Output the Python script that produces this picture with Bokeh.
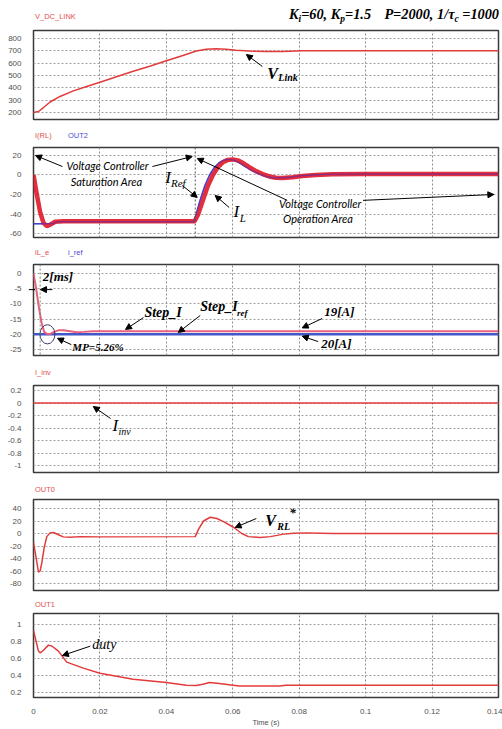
from bokeh.plotting import figure
from bokeh.layouts import column
from bokeh.models import Label, Arrow, NormalHead, Span, FixedTicker, Range1d, Div
from bokeh.embed import file_html
from bokeh.resources import INLINE

# ---------------- data ----------------
x_ticks = [0, 0.02, 0.04, 0.06, 0.08, 0.1, 0.12, 0.14]
x_tick_labels = ["0", "0.02", "0.04", "0.06", "0.08", "0.1", "0.12", "0.14"]

# Panel 1: V_DC_LINK
v_t = [0, 0.0015, 0.003, 0.005, 0.008, 0.012, 0.016, 0.02, 0.025, 0.03, 0.035, 0.04,
       0.045, 0.049, 0.052, 0.055, 0.058, 0.061, 0.065, 0.07, 0.075, 0.079, 0.081, 0.14]
v_dc_link = [200, 208, 240, 285, 330, 375, 410, 445, 490, 535, 575, 620,
             662, 698, 712, 716, 712, 705, 698, 695, 695, 699, 701, 701]
v_ticks = [200, 300, 400, 500, 600, 700, 800]
v_labels = ["200", "300", "400", "500", "600", "700", "800"]

# Panel 2: I(RL) and OUT2
i_rl_t = [0, 0.001, 0.002, 0.003, 0.004, 0.005, 0.0065, 0.009, 0.0485, 0.0495, 0.0505,
          0.0515, 0.0525, 0.054, 0.0555, 0.057, 0.0585, 0.060, 0.0615, 0.063, 0.065,
          0.067, 0.069, 0.071, 0.073, 0.075, 0.078, 0.081, 0.085, 0.09, 0.1, 0.14]
i_rl = [0, -20, -38, -49, -52.5, -51, -48, -47.5, -47.5, -41, -31,
        -21, -11, 0, 8, 13, 15.5, 16, 15, 12.5, 8,
        4, 1, -1.5, -2.8, -3, -2.2, -1, 0, 0.8, 1, 1]
out2_t = [0, 0.006, 0.007, 0.0483, 0.049, 0.0498, 0.0507, 0.0517, 0.053, 0.0545, 0.056,
          0.0575, 0.059, 0.0605, 0.062, 0.064, 0.066, 0.068, 0.070, 0.072, 0.074, 0.077,
          0.080, 0.084, 0.089, 0.1, 0.14]
out2 = [-50, -50, -48, -48, -40, -30, -20, -10, 0, 8, 13,
        15.5, 16, 15, 12.5, 8, 4, 1, -1.5, -2.8, -3, -2.2,
        -1, 0, 0.8, 1, 1]
i_ticks = [-60, -40, -20, 0, 20]
i_labels = ["-60", "-40", "-20", "0", "20"]
sat_end = 0.0487

# Panel 3: iL_e and i_ref
ile_t = [0, 0.0008, 0.0016, 0.0024, 0.0032, 0.0042, 0.0052, 0.0062, 0.0075, 0.009,
         0.011, 0.013, 0.015, 0.018, 0.14]
il_e = [0, -5, -11, -16, -19.2, -20, -19.8, -19.2, -18.7, -18.7,
        -19.0, -19.3, -19.2, -19.0, -19.0]
iref_t = [0, 0.14]
i_ref = [-20, -20]
e_ticks = [-25, -20, -15, -10, -5, 0]
e_labels = ["-25", "-20", "-15", "-10", "-5", "0"]
settle_t = 0.002

# Panel 4: I_inv
iinv_t = [0, 0.14]
i_inv = [0, 0]
inv_ticks = [-1, -0.8, -0.6, -0.4, -0.2, 0, 0.2]
inv_labels = ["-1", "-0.8", "-0.6", "-0.4", "-0.2", "0", "0.2"]

# Panel 5: OUT0
out0_t = [0, 0.0008, 0.0015, 0.002, 0.0025, 0.0032, 0.004, 0.005, 0.006, 0.0075,
          0.009, 0.011, 0.014, 0.02, 0.0487, 0.0497, 0.0512, 0.0532, 0.0552, 0.0572,
          0.0602, 0.0627, 0.0647, 0.0682, 0.0713, 0.0753, 0.0783, 0.0823, 0.0863, 0.0903, 0.14]
out0 = [-14.5, -39, -62, -60, -47, -23, -5, 1, 1.6, -2,
        -5.4, -6, -5, -5.4, -5, 7, 20, 26, 24, 19,
        10, 0, -5, -6.5, -5, -1, 0.5, 1, 0.5, 0, 0]
o0_ticks = [-80, -60, -40, -20, 0, 20, 40]
o0_labels = ["-80", "-60", "-40", "-20", "0", "20", "40"]

# Panel 6: OUT1 (duty)
duty_t = [0, 0.0008, 0.0015, 0.002, 0.003, 0.0045, 0.0055, 0.0075, 0.01, 0.015, 0.02,
          0.03, 0.04, 0.046, 0.049, 0.051, 0.053, 0.056, 0.06, 0.062, 0.074, 0.076, 0.08, 0.14]
duty = [0.93, 0.8, 0.69, 0.67, 0.7, 0.76, 0.75, 0.69, 0.56, 0.49, 0.43,
        0.36, 0.32, 0.29, 0.285, 0.3, 0.32, 0.31, 0.29, 0.28, 0.28, 0.29, 0.29, 0.29]
d_ticks = [0.2, 0.4, 0.6, 0.8, 1]
d_labels = ["0.2", "0.4", "0.6", "0.8", "1"]

RED = "#e23b3b"
BLUE = "#3f3fd8"
TRED = "#e2504c"
TBLUE = "#4b4bd6"
SERIF = "Liberation Serif"
CALLOUT = "Lato"


def make_fig(height, top, bottom, yr, ticks, labels, show_x=False):
    p = figure(width=502, height=height, x_range=Range1d(0, 0.14), y_range=Range1d(*yr),
               output_backend="svg", toolbar_location=None,
               min_border_left=33, min_border_right=4,
               min_border_top=top, min_border_bottom=bottom)
    p.background_fill_color = "white"
    p.border_fill_color = "white"
    p.outline_line_color = "#3a3a3a"
    p.outline_line_width = 1.5
    p.xaxis.ticker = FixedTicker(ticks=x_ticks)
    p.yaxis.ticker = FixedTicker(ticks=ticks)
    p.yaxis.major_label_overrides = dict(zip(ticks, labels))
    for ax in (p.xaxis[0], p.yaxis[0]):
        ax.axis_line_color = None
        ax.major_tick_line_color = None
        ax.minor_tick_line_color = None
        ax.major_label_text_font = "Liberation Sans"
        ax.major_label_text_font_size = "8px"
        ax.major_label_text_color = "#505050"
        ax.major_label_standoff = 6
    p.xgrid.grid_line_color = "#8c8c8c"
    p.xgrid.grid_line_dash = "2 2"
    p.ygrid.grid_line_color = "#a0a0a0"
    p.ygrid.grid_line_dash = "2 2"
    if show_x:
        p.xaxis.major_label_overrides = dict(zip(x_ticks, x_tick_labels))
        p.xaxis.major_label_standoff = 5
        p.xaxis.axis_label = "Time (s)"
        p.xaxis.axis_label_text_font = "Liberation Sans"
        p.xaxis.axis_label_text_font_size = "7.5px"
        p.xaxis.axis_label_text_font_style = "normal"
        p.xaxis.axis_label_text_color = "#505050"
        p.xaxis.axis_label_standoff = 1
    else:
        p.xaxis.visible = False
    return p


def txt(p, x, y, s, size, style="bold italic", font=SERIF, color="black",
        align="left", baseline="middle"):
    p.add_layout(Label(x=x, y=y, text=s,
                       text_font=font, text_font_size=f"{size}px",
                       text_font_style=style, text_color=color,
                       text_align=align, text_baseline=baseline))


def arr(p, x0, y0, x1, y1):
    p.add_layout(Arrow(end=NormalHead(size=6, fill_color="black", line_color="black",
                                      line_width=1),
                       x_start=x0, y_start=y0, x_end=x1, y_end=y1,
                       line_color="black", line_width=1))


def span_html(left, top, text, color, size=7.5, family="Liberation Sans",
              style="normal", weight="normal", right=None):
    pos = f"right:{right}px;" if right is not None else f"left:{left}px;"
    return (f'<span style="position:absolute;{pos}top:{top}px;'
            f'font-family:\'{family}\';font-size:{size}px;font-style:{style};'
            f'font-weight:{weight};color:{color};white-space:nowrap;line-height:1;">'
            f'{text}</span>')


def title_div(height, parts):
    inner = "".join(parts)
    html = (f'<div style="position:relative;width:502px;height:{height}px;'
            f'overflow:visible;">{inner}</div>')
    return Div(text=html, width=502, height=height, margin=(0, 0, 0, 0))


SUB = '<sub style="font-size:0.66em;vertical-align:-0.3em;line-height:0;">'

# ---------- header + Panel 1 ----------
d1 = title_div(27, [
    span_html(35, 13, "V_DC_LINK", TRED),
    span_html(289, 7, f"K{SUB}i</sub>=60, K{SUB}p</sub>=1.5", "black", size=14.3,
              family=SERIF, style="italic", weight="bold"),
    span_html(0, 7, f"P=2000, 1/\u03c4{SUB}c</sub> =1000", "black", size=14.3,
              family=SERIF, style="italic", weight="bold", right=3),
])
p1 = make_fig(101, 3, 9, (143, 865), v_ticks, v_labels)
p1.line(v_t, v_dc_link, line_color=RED, line_width=1.5)
txt(p1, 0.0704, 516, "V", 16)
txt(p1, 0.0737, 480, "Link", 10)
arr(p1, 0.0689, 573, 0.0641, 670)

# ---------- Panel 2 ----------
d2 = title_div(16, [span_html(35, 4, "I(RL)", TRED), span_html(68, 4, "OUT2", TBLUE)])
p2 = make_fig(102, 3, 9, (-64.1, 28.2), i_ticks, i_labels)
p2.add_layout(Span(location=sat_end, dimension="height", line_color="#555555",
                   line_dash="2 2", line_width=1))
p2.line(out2_t, out2, line_color=BLUE, line_width=1.5)
p2.line(i_rl_t, i_rl, line_color="#e01828", line_width=4.5, line_alpha=0.9)
p2.line(out2_t, out2, line_color=BLUE, line_width=1, line_alpha=0.6)
txt(p2, 0.0223, 9.7, "Voltage Controller", 11, style="italic", font=CALLOUT, align="center")
txt(p2, 0.0220, -6.7, "Saturation Area", 11, style="italic", font=CALLOUT, align="center")
arr(p2, 0.0087, 8.7, 0.0006, 20)
arr(p2, 0.0358, 8.7, 0.0478, 19)
txt(p2, 0.0397, -2.6, "I", 17, style="italic")
txt(p2, 0.0414, -7.7, "Ref", 11, style="italic")
arr(p2, 0.0448, -10.8, 0.0493, -23)
txt(p2, 0.0602, -37.4, "I", 17, style="italic")
txt(p2, 0.0621, -43.6, "L", 11, style="italic")
arr(p2, 0.0589, -33.3, 0.0547, -21)
txt(p2, 0.0863, -29.2, "Voltage Controller", 11, style="italic", font=CALLOUT, align="center")
txt(p2, 0.0857, -44.6, "Operation Area", 11, style="italic", font=CALLOUT, align="center")
arr(p2, 0.0764, -26, 0.0493, 17)
arr(p2, 0.0992, -26, 0.1386, -20)

# ---------- Panel 3 ----------
d3 = title_div(15, [span_html(35, 3, "iL_e", TRED), span_html(68, 3, "i_ref", TBLUE)])
p3 = make_fig(103, 3, 9, (-26.97, 2.96), e_ticks, e_labels)
p3.add_layout(Span(location=settle_t, dimension="height", line_color="#6f8f6f",
                   line_dash="2 2", line_width=1))
p3.line(iref_t, i_ref, line_color="#4058c8", line_width=2.5)
p3.line(ile_t, il_e, line_color="#e8607c", line_width=2)
mp_i = il_e.index(min(il_e))
p3.ellipse(x=[ile_t[mp_i]], y=[il_e[mp_i]], width=0.0045, height=6.3,
           fill_color=None, line_color="#3a3a70", line_width=1)
txt(p3, 0.0028, -1.0, "2[ms]", 13)
arr(p3, -0.0021, -5.3, 0.0004, -5.3)
arr(p3, 0.0057, -5.3, 0.0021, -5.3)
txt(p3, 0.0334, -12.8, "Step_I", 14)
arr(p3, 0.0331, -14.5, 0.0277, -18.4)
txt(p3, 0.0502, -10.9, "Step_I", 14)
txt(p3, 0.0613, -12.9, "ref", 9)
arr(p3, 0.0502, -13.8, 0.0436, -19.4)
txt(p3, 0.0875, -12.5, "19[A]", 13)
arr(p3, 0.0869, -14.8, 0.0809, -17.9)
txt(p3, 0.0866, -23.0, "20[A]", 13)
arr(p3, 0.0857, -22.4, 0.0809, -20.6)
txt(p3, 0.0117, -24.3, "MP=5.26%", 11)
arr(p3, 0.0114, -23.4, 0.0072, -21.3)

# ---------- Panel 4 ----------
d4 = title_div(18, [span_html(35, 5, "I_inv", TRED)])
p4 = make_fig(98, 3, 8, (-1.112, 0.28), inv_ticks, inv_labels)
p4.line(iinv_t, i_inv, line_color=RED, line_width=1.5)
txt(p4, 0.0238, -0.36, "I", 17, style="italic")
txt(p4, 0.0256, -0.45, "inv", 10, style="italic")
arr(p4, 0.0232, -0.248, 0.018, -0.056)

# ---------- Panel 5 ----------
d5 = title_div(16, [span_html(35, 6, "OUT0", TRED)])
p5 = make_fig(102, 3, 8, (-91.2, 54.4), o0_ticks, o0_labels)
p5.line(out0_t, out0, line_color=RED, line_width=1.5)
txt(p5, 0.0698, 20.8, "V", 16)
txt(p5, 0.0734, 11.2, "RL", 10)
txt(p5, 0.0770, 34, "*", 13)
arr(p5, 0.0671, 24, 0.0607, 9.6)

# ---------- Panel 6 ----------
d6 = title_div(12, [span_html(35, 3, "OUT1", TRED)])
p6 = make_fig(119, 3, 26, (0.145, 1.1315), d_ticks, d_labels, show_x=True)
p6.line(duty_t, duty, line_color=RED, line_width=1.5)
txt(p6, 0.0177, 0.77, "duty", 14, style="italic")
arr(p6, 0.0171, 0.748, 0.0087, 0.638)

layout = column(d1, p1, d2, p2, d3, p3, d4, p4, d5, p5, d6, p6, spacing=0)
open("out.html", "w").write(file_html(layout, INLINE))
